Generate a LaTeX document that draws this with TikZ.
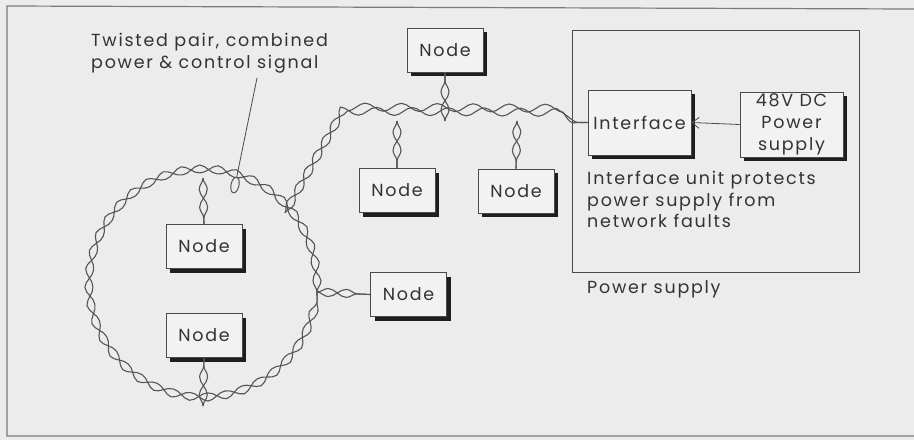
\documentclass[tikz,border=0pt]{standalone}
\usepackage{fontspec}
\setmainfont{Poppins}[LetterSpace=10.0]
\usetikzlibrary{decorations.pathmorphing,shadows,arrows.meta,shapes.geometric}
\definecolor{bgcol}{HTML}{ECECEC}
\definecolor{boxcol}{HTML}{F2F2F2}
\definecolor{linecol}{HTML}{4A4A4A}
\definecolor{cablecol}{HTML}{555555}
\definecolor{txtcol}{HTML}{333333}
\definecolor{shadowcol}{HTML}{1E1E1E}
\definecolor{framecol}{HTML}{7A7A7A}
\tikzset{
  txt/.style={text=txtcol, font=\fontsize{17.5}{21.5}\selectfont, inner sep=0pt},
  netnode/.style={draw=linecol, line width=0.9pt, fill=boxcol, text=txtcol,
    font=\fontsize{17.5}{22}\selectfont, minimum width=76pt, minimum height=44pt, inner sep=0pt,
    drop shadow={shadow xshift=4pt, shadow yshift=-4pt, fill=shadowcol, opacity=1}},
  bigunit/.style={netnode, minimum width=103pt, minimum height=65pt, align=center},
  twisted/.style={draw=none,
    postaction={decorate, draw=cablecol, line width=1.1pt,
      decoration={snake, segment length=36pt, amplitude=4pt}},
    postaction={decorate, draw=cablecol, line width=1.1pt,
      decoration={snake, segment length=36pt, amplitude=4pt, mirror}}},
  thinline/.style={draw=linecol, line width=0.8pt}
}
\begin{document}
\begin{tikzpicture}[x=1pt,y=-1pt]
\useasboundingbox (0,0) rectangle (914,440);
\fill[bgcol] (0,0) rectangle (914,440);
% frame
\draw[framecol, line width=1.2pt] (914,9) -- (7,6) -- (7,436) -- (914,436);

% power supply enclosure
\node[draw=linecol, line width=0.8pt, minimum width=287pt, minimum height=242pt, inner sep=0pt] (psbox) at (715.5,151) {};
\node[bigunit] (iface) at (639.5,122.5) {Interface};
\node[bigunit] (psu) at (791.5,124.5) {48V DC\\Power\\supply};
\draw[thinline, -{Straight Barb[length=7pt,width=11pt]}] (psu.west) -- (iface.east);
\node[txt, anchor=north west, align=left] (note) at (587,171) {Interface unit protects\\power supply from\\network faults};
\node[txt, anchor=north west] (pslabel) at (587,280) {Power supply};

% network nodes
\node[netnode] (ntop) at (445,50) {Node};
\node[netnode] (nmid) at (397,190.5) {Node};
\node[netnode] (nrt) at (516,191) {Node};
\node[netnode] (nin1) at (204,246.5) {Node};
\node[netnode] (nin2) at (204,335.5) {Node};
\node[netnode] (nright) at (408.5,294.5) {Node};

% ring
\coordinate (cc) at (203,292);
\draw[twisted] (cc) circle (114pt);
\coordinate (ctop) at ([shift={(90:114pt)}]cc);
\coordinate (cbot) at ([shift={(-90:114pt)}]cc);
\coordinate (cright) at ([shift={(0:114pt)}]cc);
\coordinate (cne) at ([shift={(44:114pt)}]cc);

% backbone
\coordinate (bend) at (337,121);
\coordinate (j1) at (397,121);
\coordinate (j2) at (445,121);
\coordinate (j3) at (517,121);
\draw[twisted] (cne) -- (bend) -- (iface.west);
\draw[twisted] (j1) -- (nmid.north);
\draw[twisted] (j2) -- (ntop.south);
\draw[twisted] (j3) -- (nrt.north);
\draw[twisted] (ctop) -- (nin1.north);
\draw[twisted] (cbot) -- (nin2.south);
\draw[twisted] (cright) -- (nright.west);

% label with leader
\node[txt, anchor=north west, align=left] (lbl) at (91,33) {Twisted pair, combined\\power \& control signal};
\coordinate (lead) at (257,78);
\node[draw=cablecol, line width=1pt, ellipse, minimum width=8pt, minimum height=16pt, inner sep=0pt, rotate=-12] (ring) at (235,185) {};
\draw[thinline] (lead) -- (ring.north);
\end{tikzpicture}
\end{document}
